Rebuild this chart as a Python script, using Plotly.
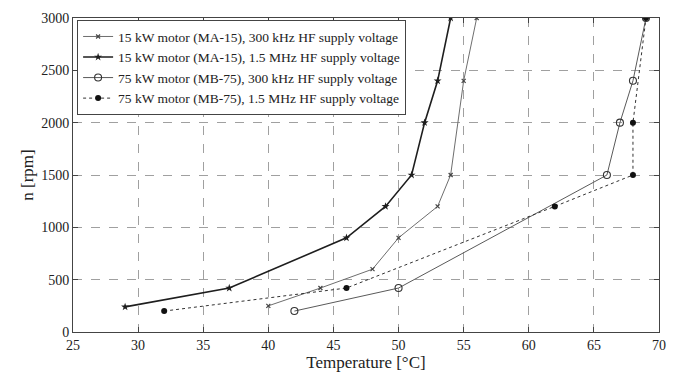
import plotly.graph_objects as go

# Data
names = [
    "15 kW motor (MA-15), 300 kHz HF supply voltage",
    "15 kW motor (MA-15), 1.5 MHz HF supply voltage",
    "75 kW motor (MB-75), 300 kHz HF supply voltage",
    "75 kW motor (MB-75), 1.5 MHz HF supply voltage",
]
ma15_300k_T = [40, 44, 48, 50, 53, 54, 55, 56]
ma15_300k_n = [250, 420, 600, 900, 1200, 1500, 2400, 3000]
ma15_1m5_T = [29, 37, 46, 49, 51, 52, 53, 54]
ma15_1m5_n = [240, 420, 900, 1200, 1500, 2000, 2400, 3000]
mb75_300k_T = [42, 50, 66, 67, 68, 69]
mb75_300k_n = [200, 420, 1500, 2000, 2400, 3000]
mb75_1m5_T = [32, 46, 62, 68, 68, 69]
mb75_1m5_n = [200, 420, 1200, 1500, 2000, 3000]

xticks = [25, 30, 35, 40, 45, 50, 55, 60, 65, 70]
yticks = [0, 500, 1000, 1500, 2000, 2500, 3000]

FONT = "Liberation Serif, Times New Roman, serif"

fig = go.Figure()
fig.add_trace(go.Scatter(
    x=ma15_300k_T, y=ma15_300k_n, name=names[0], mode="lines+markers",
    line=dict(color="#6e6e6e", width=1),
    marker=dict(symbol="x-thin", size=4, color="#444", line=dict(width=1.2, color="#444")),
))
fig.add_trace(go.Scatter(
    x=ma15_1m5_T, y=ma15_1m5_n, name=names[1], mode="lines+markers",
    line=dict(color="#1e1e1e", width=1.6),
    marker=dict(symbol="star", size=6, color="#1e1e1e"),
))
fig.add_trace(go.Scatter(
    x=mb75_300k_T, y=mb75_300k_n, name=names[2], mode="lines+markers",
    line=dict(color="#5a5a5a", width=1),
    marker=dict(symbol="circle-open", size=7, color="#333", line=dict(width=1.1, color="#333")),
))
fig.add_trace(go.Scatter(
    x=mb75_1m5_T, y=mb75_1m5_n, name=names[3], mode="lines+markers",
    line=dict(color="#333333", width=1, dash="dot"),
    marker=dict(symbol="circle", size=6, color="#111"),
))

axis_common = dict(
    showgrid=True, gridcolor="#a0a0a0", griddash="dash", gridwidth=1,
    showline=True, linecolor="#444", linewidth=1, mirror="ticks",
    ticks="inside", ticklen=5, tickcolor="#444",
    zeroline=False, tickfont=dict(family=FONT, size=14, color="#222"),
)

fig.update_layout(
    width=679, height=381,
    margin=dict(l=73, r=20, t=11, b=49),
    paper_bgcolor="white", plot_bgcolor="white",
    font=dict(family=FONT, color="#222"),
    xaxis=dict(range=[25, 70], tickvals=xticks,
               title=dict(text="Temperature [°C]", font=dict(family=FONT, size=17), standoff=1),
               **axis_common),
    yaxis=dict(range=[0, 3000], tickvals=yticks,
               title=dict(text="n [rpm]", font=dict(family=FONT, size=17), standoff=3),
               **axis_common),
    legend=dict(x=0.007, y=0.993, xanchor="left", yanchor="top",
                bgcolor="white", bordercolor="#444", borderwidth=1,
                font=dict(family=FONT, size=13.5, color="#222"),
                tracegroupgap=0, itemwidth=30),
    showlegend=True,
)

fig.write_html("out.html")
